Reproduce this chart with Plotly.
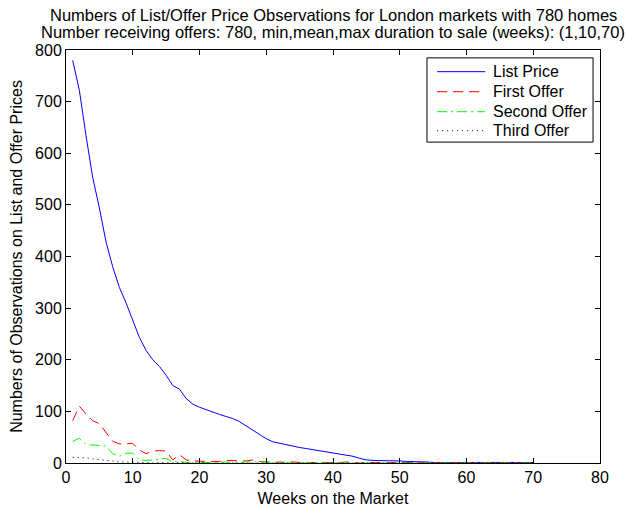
import plotly.graph_objects as go

# Weeks on the market for each series
weeks_list = list(range(1, 71))
weeks_offer = list(range(1, 71))

# Number of list price observations per week
list_price = [780, 722, 634, 553, 494, 428, 380, 340, 310, 278,
              243, 218, 200, 187, 170, 150, 143, 125, 114, 108,
              103, 98, 94, 90, 86, 80, 72, 63, 55, 47,
              41, 38, 35, 33, 30, 28, 26, 24, 22, 20,
              18, 16, 13, 9, 6, 5, 5, 4, 4, 4,
              3, 3, 2, 2, 1, 1, 1, 1, 1, 1,
              1, 1, 1, 1, 1, 1, 1, 1, 1, 1]

# Number of first / second / third offers per week
first_offer = [82, 110, 95, 82, 76, 58, 42, 37, 37, 38,
               25, 18, 23, 24, 23, 6, 16, 6, 4, 3,
               3, 3, 3, 5, 5, 5, 4, 6, 3, 2,
               1, 2, 1, 2, 1, 0, 1, 1, 0, 1,
               1, 2, 1, 0, 1, 1, 0, 1, 0, 1,
               0, 1, 0, 0, 1, 0, 0, 1, 0, 0,
               1, 0, 0, 1, 0, 0, 1, 0, 0, 0]
second_offer = [42, 48, 36, 35, 33, 33, 18, 13, 19, 19,
                6, 5, 6, 8, 9, 2, 3, 1, 0, 1,
                1, 0, 1, 2, 1, 1, 2, 2, 3, 2,
                1, 0, 0, 1, 0, 0, 1, 0, 0, 0,
                1, 0, 0, 0, 1, 0, 0, 0, 0, 1,
                0, 0, 0, 1, 0, 0, 0, 0, 1, 0,
                0, 0, 0, 0, 1, 0, 0, 0, 0, 0]
third_offer = [11, 11, 10, 8, 6, 5, 4, 2, 2, 1,
               1, 1, 0, 1, 0, 0, 1, 0, 0, 0,
               0, 0, 0, 0, 0, 0, 0, 0, 0, 0,
               0, 0, 0, 0, 0, 0, 0, 0, 0, 0,
               0, 0, 0, 0, 0, 0, 0, 0, 0, 0,
               0, 0, 0, 0, 0, 0, 0, 0, 0, 0,
               0, 0, 0, 0, 0, 0, 0, 0, 0, 0]

series_names = ["List Price", "First Offer", "Second Offer", "Third Offer"]
x_ticks = [0, 10, 20, 30, 40, 50, 60, 70, 80]
y_ticks = [0, 100, 200, 300, 400, 500, 600, 700, 800]
title_lines = [
    "Numbers of List/Offer Price Observations for London markets with 780 homes",
    "Number receiving offers: 780, min,mean,max duration to sale (weeks): (1,10,70)",
]

FONT = "Liberation Sans, Arial, Helvetica, sans-serif"
FS = 16

# Line style per series (shared by the traces and the legend key)
styles = [
    dict(color="#0000ff", width=1),
    dict(color="#ff0000", width=1, dash="10px,6px"),
    dict(color="#00ff00", width=1, dash="10px,4px,2px,4px"),
    dict(color="#000000", width=1, dash="1px,4px"),
]
series_x = [weeks_list, weeks_offer, weeks_offer, weeks_offer]
series_y = [list_price, first_offer, second_offer, third_offer]

fig = go.Figure()
for name, xs, ys, st in zip(series_names, series_x, series_y, styles):
    fig.add_trace(go.Scatter(x=xs, y=ys, mode="lines", name=name, line=st,
                             showlegend=False))

axis_common = dict(
    showline=True, linecolor="black", linewidth=1, mirror="ticks",
    ticks="inside", ticklen=5, tickcolor="black", tickwidth=1,
    showgrid=False, zeroline=False, automargin=False,
    tickfont=dict(family=FONT, size=FS, color="black"),
)

# Two-line title above the axes
annotations = [
    dict(text=title_lines[0], xref="paper", yref="paper", x=0.5, y=1.085,
         xanchor="center", yanchor="middle", showarrow=False,
         font=dict(family=FONT, size=16.5, color="black")),
    dict(text=title_lines[1], xref="paper", yref="paper", x=0.5, y=1.044,
         xanchor="center", yanchor="middle", showarrow=False,
         font=dict(family=FONT, size=16.5, color="black")),
]

# Boxed legend key in the upper-right corner of the axes
shapes = [dict(type="rect", xref="paper", yref="paper",
               x0=0.676, x1=0.987, y0=0.777, y1=0.981,
               line=dict(color="black", width=1), fillcolor="white", layer="above")]
row_y = [0.9475, 0.899, 0.8506, 0.8046]
for name, st, ry in zip(series_names, styles, row_y):
    shapes.append(dict(type="line", xref="paper", yref="paper",
                       x0=0.695, x1=0.785, y0=ry, y1=ry, line=st, layer="above"))
    annotations.append(dict(text=name, xref="paper", yref="paper", x=0.795, y=ry,
                            xanchor="left", yanchor="middle", showarrow=False,
                            font=dict(family=FONT, size=FS, color="black")))

fig.update_layout(
    width=626, height=510,
    margin=dict(l=66, r=26, t=50, b=47),
    paper_bgcolor="white", plot_bgcolor="white",
    font=dict(family=FONT, size=FS, color="black"),
    annotations=annotations,
    shapes=shapes,
    xaxis=dict(range=[0, 80], tickvals=x_ticks,
               title=dict(text="Weeks on the Market", standoff=7,
                          font=dict(family=FONT, size=FS)),
               **axis_common),
    yaxis=dict(range=[0, 800], tickvals=y_ticks,
               title=dict(text="Numbers of Observations on List and Offer Prices", standoff=8,
                          font=dict(family=FONT, size=FS)),
               **axis_common),
    showlegend=False,
)

fig.write_html("out.html")
